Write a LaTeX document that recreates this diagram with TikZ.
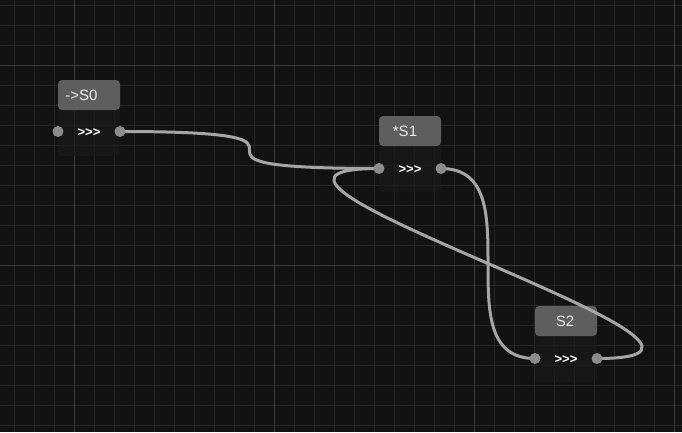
\documentclass[tikz,border=0pt]{standalone}
\usepackage{fontspec}
\setmainfont{Liberation Sans}
\definecolor{bgcol}{HTML}{121212}
\definecolor{minorcol}{HTML}{262626}
\definecolor{majorcol}{HTML}{3C3C3C}
\definecolor{bodycol}{HTML}{1A1A1A}
\definecolor{headcol}{HTML}{5E5E5E}
\definecolor{edgecol}{HTML}{A6A6A6}
\definecolor{portcol}{HTML}{8C8C8C}
\definecolor{textcol}{HTML}{EDEDED}
\begin{document}
\begin{tikzpicture}[x=1pt,y=-1pt,
  minorline/.style={draw=minorcol,line width=1pt},
  majorline/.style={draw=majorcol,line width=1pt},
  nodebody/.style={minimum width=62pt,minimum height=76pt,inner sep=0pt,rounded corners=4pt,fill=bodycol,fill opacity=0.7},
  header/.style={minimum width=62pt,minimum height=30pt,inner sep=0pt,rounded corners=4pt,fill=headcol,anchor=north},
  htext/.style={text=textcol,font=\fontsize{15}{16}\selectfont,inner sep=0pt},
  arrtext/.style={text=white,font=\fontsize{13}{14}\selectfont\bfseries,inner sep=0pt},
  port/.style={circle,fill=portcol,minimum size=11pt,inner sep=0pt},
  edge/.style={draw=edgecol,line width=3pt,line cap=round}]
\useasboundingbox (0,0) rectangle (682,432);
\fill[bgcol] (0,0) rectangle (682,432);
% grid
\foreach \x in {14.7,34.7,...,680} \draw[minorline] (\x,0) -- (\x,432);
\foreach \y in {5.3,25.3,...,430} \draw[minorline] (0,\y) -- (682,\y);
\foreach \x in {74.7,274.7,474.7,674.7} \draw[majorline] (\x,0) -- (\x,432);
\foreach \y in {65.3,265.3} \draw[majorline] (0,\y) -- (682,\y);
% node bodies
\node[nodebody] (s0) at (89,118) {};
\node[nodebody] (s1) at (410,154) {};
\node[nodebody] (s2) at (566,344) {};
% headers
\node[header] (s0h) at (s0.north) {};
\node[header] (s1h) at (s1.north) {};
\node[header] (s2h) at (s2.north) {};
% port positions
\coordinate (s0in) at (58,131.5);
\coordinate (s0out) at (120,131.5);
\coordinate (s1in) at (379,168.5);
\coordinate (s1out) at (441,168.5);
\coordinate (s2in) at (535,358.5);
\coordinate (s2out) at (597,358.5);
% edges
\draw[edge] (s0out) .. controls +(259,0) and +(-259,0) .. (s1in);
\draw[edge] (s1out) .. controls +(94,0) and +(-94,0) .. (s2in);
\draw[edge] (s2out) .. controls +(218,0) and +(-218,0) .. (s1in);
% ports
\node[port] (p0in) at (s0in) {};
\node[port] (p0out) at (s0out) {};
\node[port] (p1in) at (s1in) {};
\node[port] (p1out) at (s1out) {};
\node[port] (p2in) at (s2in) {};
\node[port] (p2out) at (s2out) {};
% texts
\node[htext] (t0) at (81.5,95) {-{}>S0};
\node[htext] (t1) at (405,131) {*S1};
\node[htext] (t2) at (565,321) {S2};
\node[arrtext] (a0) at (89,132.5) {>{}>{}>};
\node[arrtext] (a1) at (410,169.5) {>{}>{}>};
\node[arrtext] (a2) at (566,359.5) {>{}>{}>};
\end{tikzpicture}
\end{document}
